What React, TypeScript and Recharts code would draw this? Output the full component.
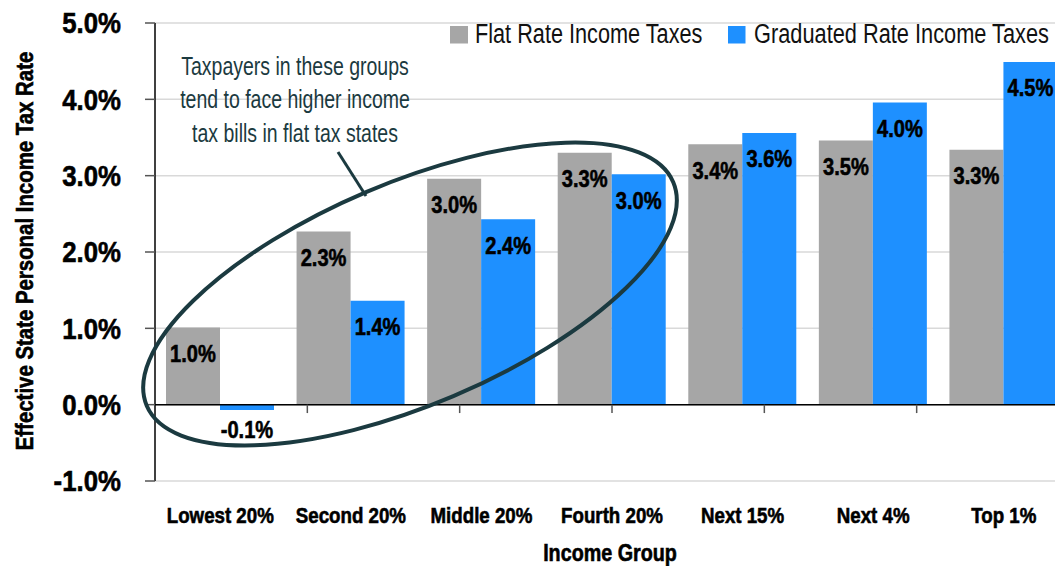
import React from "react";
import {
  BarChart,
  Bar,
  XAxis,
  YAxis,
  CartesianGrid,
  LabelList,
  ReferenceLine,
} from "recharts";

const categories = [
  "Lowest 20%",
  "Second 20%",
  "Middle 20%",
  "Fourth 20%",
  "Next 15%",
  "Next 4%",
  "Top 1%",
];
const flatRate = [1.01, 2.27, 2.96, 3.3, 3.41, 3.46, 3.34];
const graduatedRate = [-0.07, 1.36, 2.43, 3.02, 3.56, 3.96, 4.49];
const yTicks = [-1, 0, 1, 2, 3, 4, 5];
const groupEdges = [1, 2, 3, 4, 5, 6];
const noteLines = [
  "Taxpayers in these groups",
  "tend to face higher income",
  "tax bills in flat tax states",
];

// no condensed font installed, so squeeze Liberation Sans sideways
const FONT = '"Liberation Sans", Arial, sans-serif';
const GRAY = "#a6a6a6";
const BLUE = "#1e90ff";
const INK = "#1b3a40";

const data = categories.map((name, i) => ({
  name,
  flat: flatRate[i],
  graduated: graduatedRate[i],
}));

const pct = (v: number) => `${v.toFixed(1)}%`;

type SqProps = {
  x: number;
  y: number;
  sx: number;
  size: number;
  bold?: boolean;
  anchor?: "start" | "middle" | "end";
  fill?: string;
  rotate?: number;
  baseline?: string;
  children: React.ReactNode;
};

// condensed-looking text
const SqText = ({
  x,
  y,
  sx,
  size,
  bold,
  anchor = "middle",
  fill = "#000",
  rotate = 0,
  baseline,
  children,
}: SqProps) => (
  <text
    transform={`translate(${x} ${y}) rotate(${rotate}) scale(${sx} 1)`}
    textAnchor={anchor}
    dominantBaseline={baseline}
    fontFamily={FONT}
    fontSize={size}
    fontWeight={bold ? 700 : 400}
    fill={fill}
    stroke={bold ? fill : "none"}
    strokeWidth={bold ? 0.6 : 0}
  >
    {children}
  </text>
);

const BarLabel = (props: any) => {
  const vb = props.viewBox ?? props;
  const x = Number(vb.x);
  const y = Number(vb.y);
  const w = Number(vb.width);
  const h = Number(vb.height);
  const v = Number(props.value);
  const top = Math.min(y, y + h);
  const bottom = Math.max(y, y + h);
  const ty = v < 0 ? bottom + 28 : top + 34.5;
  return (
    <SqText x={x + w / 2} y={ty} sx={0.82} size={24.5} bold>
      {pct(v)}
    </SqText>
  );
};

const YTick = ({ x, y, payload }: any) => (
  <SqText x={x} y={y} sx={0.86} size={30} bold anchor="end" baseline="central">
    {pct(payload.value)}
  </SqText>
);

const XTick = ({ x, y, payload }: any) => (
  <SqText x={x} y={y + 42} sx={0.85} size={22} bold>
    {payload.value}
  </SqText>
);

export default function App() {
  return (
    <div
      style={{
        position: "absolute",
        left: 0,
        top: 0,
        width: 1055,
        height: 566,
        overflow: "hidden",
        background: "#fff",
      }}
    >
      <BarChart
        width={1069}
        height={566}
        data={data}
        margin={{ top: 23, right: 0, left: 0, bottom: 0 }}
        barCategoryGap={11}
        barGap={0}
      >
        <CartesianGrid vertical={false} stroke="#d9d9d9" strokeWidth={1.5} />
        <XAxis
          dataKey="name"
          axisLine={false}
          tickLine={false}
          tickSize={0}
          tickMargin={0}
          height={85}
          interval={0}
          tick={XTick}
          label={{
            content: ({ viewBox }: any) => (
              <SqText
                x={viewBox.x + viewBox.width / 2 - 2}
                y={viewBox.y + 79.5}
                sx={0.84}
                size={23.5}
                bold
              >
                Income Group
              </SqText>
            ),
          }}
        />
        <XAxis xAxisId="edges" type="number" domain={[0, 7]} hide />
        <YAxis
          domain={[-1, 5]}
          ticks={yTicks}
          width={155}
          interval={0}
          axisLine={{ stroke: "#000", strokeWidth: 1.5 }}
          tickLine={{ stroke: "#555", strokeWidth: 1.5 }}
          tickSize={10}
          tickMargin={24}
          tick={YTick}
          label={{
            content: ({ viewBox }: any) => (
              <SqText
                x={viewBox.x + 33}
                y={viewBox.y + viewBox.height / 2 - 1}
                sx={0.85}
                size={24}
                bold
                rotate={-90}
              >
                Effective State Personal Income Tax Rate
              </SqText>
            ),
          }}
        />
        <Bar dataKey="flat" name="Flat Rate Income Taxes" fill={GRAY} isAnimationActive={false}>
          <LabelList dataKey="flat" content={BarLabel} />
        </Bar>
        <Bar
          dataKey="graduated"
          name="Graduated Rate Income Taxes"
          fill={BLUE}
          isAnimationActive={false}
        >
          <LabelList dataKey="graduated" content={BarLabel} />
        </Bar>
        <ReferenceLine y={0} stroke="#000" strokeWidth={1.5} />
        {groupEdges.map((e) => (
          <ReferenceLine
            key={e}
            xAxisId="edges"
            segment={[
              { x: e, y: 0 },
              { x: e, y: -0.11 },
            ]}
            stroke="#555"
            strokeWidth={1.5}
          />
        ))}
      </BarChart>

      {/* legend + callout drawn on top */}
      <svg
        width={1055}
        height={566}
        style={{ position: "absolute", left: 0, top: 0, pointerEvents: "none" }}
      >
        <rect x={450} y={26} width={18} height={17.5} fill={GRAY} />
        <SqText x={475} y={43.3} sx={0.775} size={28} anchor="start" fill="#111">
          Flat Rate Income Taxes
        </SqText>
        <rect x={728} y={26} width={17.5} height={17.5} fill={BLUE} />
        <SqText x={754} y={43.3} sx={0.778} size={28} anchor="start" fill="#111">
          Graduated Rate Income Taxes
        </SqText>

        <ellipse
          cx={410}
          cy={294}
          rx={286}
          ry={111}
          transform="rotate(-23 410 294)"
          fill="none"
          stroke={INK}
          strokeWidth={4}
        />
        <line x1={338} y1={152} x2={366} y2={196} stroke={INK} strokeWidth={3} />
        {noteLines.map((t, i) => (
          <SqText
            key={t}
            x={295}
            y={74.5 + i * 33.5}
            sx={0.78}
            size={25}
            anchor="middle"
            fill={INK}
          >
            {t}
          </SqText>
        ))}
      </svg>
    </div>
  );
}
